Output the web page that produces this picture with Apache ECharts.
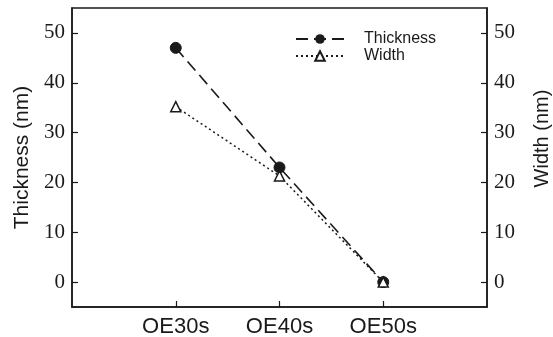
<!DOCTYPE html>
<html>
<head>
<meta charset="utf-8">
<script src="https://cdn.jsdelivr.net/npm/echarts@6/dist/echarts.min.js"></script>
<style>html,body{margin:0;padding:0;background:#fff}#c{width:553px;height:337px}</style>
</head>
<body>
<div id="c"></div>
<script>
const categories = ['', 'OE30s', 'OE40s', 'OE50s', ''];
const thickness = [null, 47, 23, 0, null];
const width = [null, 35.2, 21.3, 0, null];
const yTicks = [0, 10, 20, 30, 40, 50];

const chart = echarts.init(document.getElementById('c'), null, {renderer: 'canvas'});
const serif = 'Liberation Serif';
const sans = 'Liberation Sans';
const ink = '#1a1a1a';

function yAxis(pos, name, extraName) {
  return {
    type: 'value', position: pos, min: -5, max: 55, interval: 5,
    name: name, nameLocation: 'middle', nameRotate: 90,
    nameGap: pos === 'left' ? 38 : 45,
    nameTextStyle: Object.assign({fontFamily: sans, fontSize: 21, color: ink}, extraName || {}),
    axisLine: {show: true, onZero: false, lineStyle: {color: ink, width: 1.5}},
    axisTick: {show: true, inside: true, length: 6, lineStyle: {color: ink, width: 1.2},
      customValues: yTicks},
    axisLabel: {fontFamily: serif, fontSize: 21, color: ink, margin: 7, customValues: yTicks},
    splitLine: {show: false}
  };
}

chart.setOption({
  animation: false,
  grid: {left: 72, right: 66, top: 8, bottom: 30, show: true, borderColor: ink, borderWidth: 1.5,
    containLabel: false, outerBoundsMode: 'none'},
  legend: {
    left: 295, top: 31, padding: 0, orient: 'vertical', itemWidth: 48, itemHeight: 12, itemGap: 1,
    textStyle: {fontFamily: sans, fontSize: 16, color: ink, padding: [0, 0, 0, 15]},
    data: ['Thickness', 'Width']
  },
  xAxis: {
    type: 'category', data: categories, boundaryGap: false,
    axisLine: {onZero: false, lineStyle: {color: ink, width: 1.5}},
    axisTick: {inside: true, length: 6, lineStyle: {color: ink, width: 1.2},
      interval: function (i) { return i >= 1 && i <= 3; }},
    axisLabel: {interval: 0, fontFamily: sans, fontSize: 22, color: ink, margin: 9},
    splitLine: {show: false}
  },
  yAxis: [
    yAxis('left', 'Thickness (nm)'),
    yAxis('right', 'Width (nm)', {padding: [0, 0, 0, 38], fontSize: 20})
  ],
  series: [
    {
      name: 'Thickness', type: 'line', data: thickness, yAxisIndex: 0,
      symbol: 'circle', symbolSize: 11,
      lineStyle: {color: ink, width: 1.6, type: [12, 6]},
      itemStyle: {color: ink, borderColor: ink}
    },
    {
      name: 'Width', type: 'line', data: width, yAxisIndex: 1,
      symbol: 'triangle', symbolSize: 10,
      lineStyle: {color: ink, width: 1.5, type: [2, 3]},
      itemStyle: {color: '#fff', borderColor: ink, borderWidth: 1.5}
    }
  ]
});
</script>
</body>
</html>
